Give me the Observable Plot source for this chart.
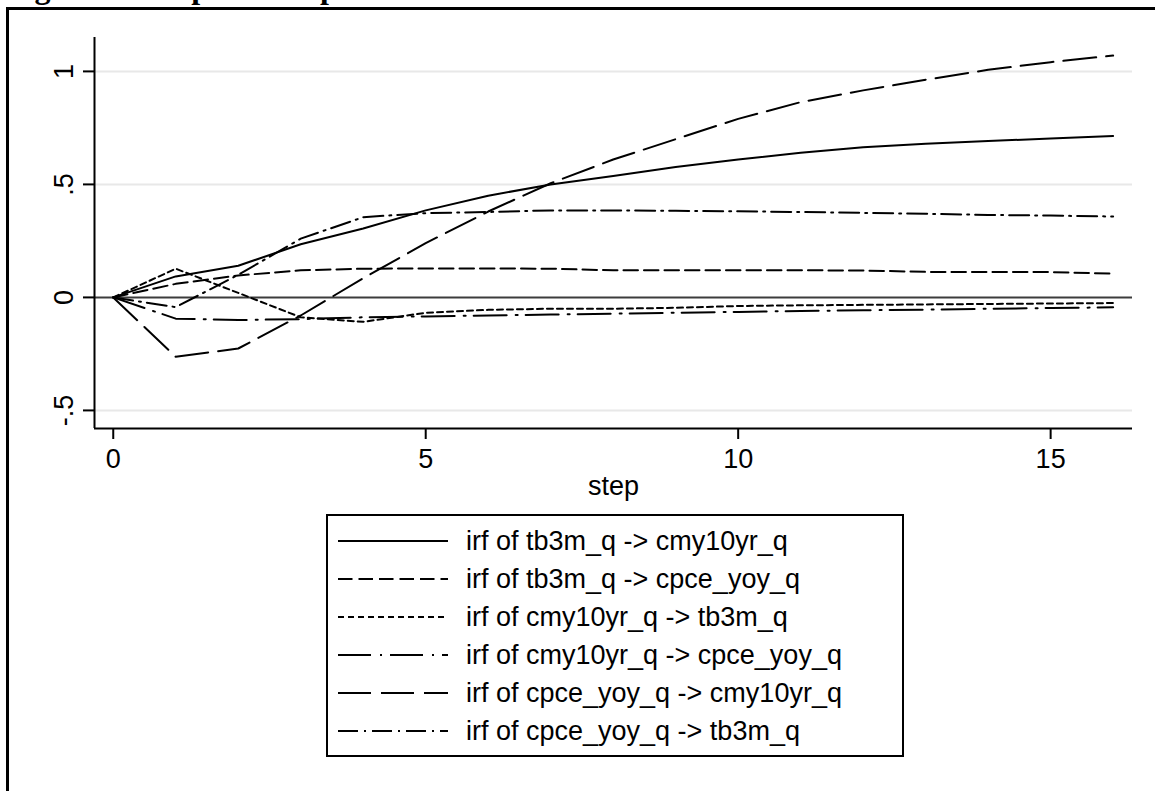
<!DOCTYPE html>
<html><head><meta charset="utf-8">
<script src="https://cdn.jsdelivr.net/npm/d3@7"></script>
<script src="https://cdn.jsdelivr.net/npm/@observablehq/plot@0.6"></script>
<style>
html,body{margin:0;padding:0;background:#fff;}
#wrap{position:relative;width:1155px;height:791px;overflow:hidden;background:#fff;}
#frame{position:absolute;left:6px;top:7px;width:3000px;height:3000px;border-left:3px solid #000;border-top:3px solid #000;}
.layer{position:absolute;left:0;top:0;}
</style>
</head><body>
<div id="wrap"><div id="frame"></div></div>
<script>
// ---- data ----
const titleText = "Figure 10. Impulse Responses";
const xLabel = "step";
const steps = [0,1,2,3,4,5,6,7,8,9,10,11,12,13,14,15,16];
const irf_tb3m_cmy10yr   = [0, 0.093, 0.14, 0.235, 0.305, 0.385, 0.45, 0.50, 0.537, 0.577, 0.61, 0.64, 0.664, 0.68, 0.692, 0.703, 0.714];
const irf_tb3m_cpce      = [0, 0.06, 0.097, 0.12, 0.127, 0.128, 0.128, 0.127, 0.12, 0.12, 0.12, 0.12, 0.119, 0.113, 0.112, 0.112, 0.105];
const irf_cmy10yr_tb3m   = [0, 0.127, 0.02, -0.088, -0.108, -0.068, -0.055, -0.05, -0.05, -0.046, -0.038, -0.035, -0.033, -0.031, -0.029, -0.027, -0.025];
const irf_cmy10yr_cpce   = [0, -0.094, -0.10, -0.096, -0.088, -0.084, -0.08, -0.076, -0.072, -0.068, -0.064, -0.06, -0.057, -0.054, -0.05, -0.047, -0.044];
const irf_cpce_cmy10yr   = [0, -0.263, -0.226, -0.08, 0.085, 0.24, 0.38, 0.505, 0.61, 0.70, 0.79, 0.864, 0.916, 0.963, 1.007, 1.041, 1.07];
const irf_cpce_tb3m      = [0, -0.043, 0.10, 0.26, 0.355, 0.373, 0.378, 0.385, 0.385, 0.383, 0.381, 0.378, 0.374, 0.37, 0.365, 0.362, 0.358];
const seriesNames = [
  "irf of tb3m_q -> cmy10yr_q",
  "irf of tb3m_q -> cpce_yoy_q",
  "irf of cmy10yr_q -> tb3m_q",
  "irf of cmy10yr_q -> cpce_yoy_q",
  "irf of cpce_yoy_q -> cmy10yr_q",
  "irf of cpce_yoy_q -> tb3m_q"
];
const seriesValues = [irf_tb3m_cmy10yr, irf_tb3m_cpce, irf_cmy10yr_tb3m, irf_cmy10yr_cpce, irf_cpce_cmy10yr, irf_cpce_tb3m];
const dashes = [null, "14.5,6", "6,4", "33,9,2,8", "33,10", "20,6,2,6"];
const xTicks = [0, 5, 10, 15];
const yTicks = [-0.5, 0, 0.5, 1];
const yTickLabels = ["-.5", "0", ".5", "1"];
const gridTicks = [-0.5, 0.5, 1];
const xDomain = [-0.3, 16.31];
const yDomain = [-0.58, 1.15];

const FONT = "'Liberation Sans', Arial, sans-serif";
const wrap = document.getElementById("wrap");

// title (mostly cut off at top edge, as in the reference)
const tsvg = d3.create("svg").attr("class","layer").attr("width",1155).attr("height",20);
tsvg.append("text").attr("x",6).attr("y",-2)
  .attr("font-family","'Liberation Serif','Times New Roman',serif").attr("font-weight","bold")
  .attr("font-size",32).text(titleText);
wrap.appendChild(tsvg.node());

const lineMarks = seriesNames.map((name, i) =>
  Plot.line(steps.map((s, j) => ({step: s, value: seriesValues[i][j]})), {
    x: "step", y: "value", stroke: "#000", strokeWidth: 2,
    strokeDasharray: dashes[i] || undefined, strokeLinejoin: "round"
  })
);

const chart = Plot.plot({
  width: 1155, height: 500,
  marginLeft: 94, marginRight: 23, marginTop: 37, marginBottom: 72,
  x: {domain: xDomain, axis: null},
  y: {domain: yDomain, axis: null},
  style: {fontFamily: FONT, fontSize: "27px", background: "transparent", color: "#000", overflow: "visible"},
  marks: [
    Plot.ruleY(gridTicks, {stroke: "#e8e8e8", strokeWidth: 2}),
    Plot.ruleY([0], {stroke: "#3c3c3c", strokeWidth: 2}),
    ...lineMarks,
    Plot.ruleX([xDomain[0]], {stroke: "#000", strokeWidth: 2}),
    Plot.ruleY([yDomain[0]], {stroke: "#000", strokeWidth: 2}),
    Plot.axisX(xTicks, {tickSize: 11, tickPadding: 9, fontSize: 27, label: null, strokeWidth: 2}),
    Plot.axisY(yTicks, {tickSize: 11, tickPadding: 11, tickRotate: -90, fontSize: 27, label: null, strokeWidth: 2,
      tickFormat: d => yTickLabels[yTicks.indexOf(d)]}),
    Plot.text([xLabel], {frameAnchor: "bottom", dy: 58, lineAnchor: "middle", fontSize: 27})
  ]
});
chart.classList.add("layer");
chart.style.position = "absolute";
chart.style.left = "0px";
chart.style.top = "0px";
wrap.appendChild(chart);

// legend
const lsvg = d3.create("svg").attr("class","layer").attr("width",1155).attr("height",791);
lsvg.append("rect").attr("x",327).attr("y",515).attr("width",576).attr("height",241)
  .attr("fill","#fff").attr("stroke","#000").attr("stroke-width",2);
seriesNames.forEach((name, i) => {
  const cy = 541 + 38 * i;
  const ln = lsvg.append("line").attr("x1",338).attr("x2",448).attr("y1",cy).attr("y2",cy)
    .attr("stroke","#000").attr("stroke-width",2);
  if (dashes[i]) ln.attr("stroke-dasharray", dashes[i]);
  lsvg.append("text").attr("x",466).attr("y",cy).attr("dy","0.32em")
    .attr("font-family",FONT).attr("font-size",27).attr("fill","#000").text(name);
});
wrap.appendChild(lsvg.node());
</script>
</body></html>
